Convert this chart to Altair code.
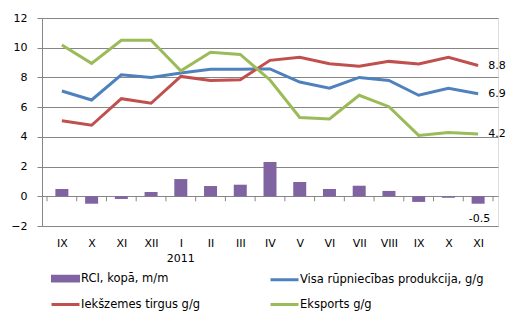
import altair as alt
import pandas as pd

months = ["IX", "X", "XI", "XII", "I", "II", "III", "IV", "V", "VI", "VII", "VIII", "IX", "X", "XI"]
rci = [0.49, -0.5, -0.18, 0.29, 1.16, 0.69, 0.78, 2.31, 0.96, 0.49, 0.71, 0.36, -0.38, -0.1, -0.5]
visa = [7.09, 6.48, 8.18, 8.0, 8.3, 8.55, 8.55, 8.57, 7.69, 7.27, 8.0, 7.8, 6.8, 7.27, 6.9]
iekz = [5.09, 4.78, 6.57, 6.26, 8.07, 7.8, 7.85, 9.15, 9.35, 8.92, 8.75, 9.08, 8.9, 9.35, 8.8]
eksp = [10.18, 8.95, 10.5, 10.5, 8.45, 9.7, 9.55, 7.83, 5.3, 5.2, 6.8, 6.03, 4.1, 4.3, 4.2]

names = ["RCI, kopā, m/m", "Visa rūpniecības produkcija, g/g", "Iekšzemes tirgus g/g", "Eksports g/g"]
colors = ["#8064A2", "#4F81BD", "#C0504D", "#9BBB59"]
end_labels = ["-0.5", "6.9", "8.8", "4.2"]

# legend fills column by column: order entries so rows read RCI | Visa, Iekšzemes | Eksports
legend_order = [names[0], names[2], names[1], names[3]]
legend_colors = [colors[0], colors[2], colors[1], colors[3]]

FONT = "DejaVu Sans"
GRID = "#868686"

pos = [i + 0.5 for i in range(len(months))]
bar_df = pd.DataFrame({"pos": pos, "v": rci, "s": names[0]})
line_df = pd.concat([
    pd.DataFrame({"pos": pos, "v": vals, "s": nm, "o": list(range(len(pos)))})
    for nm, vals in zip(names[1:], [visa, iekz, eksp])
])
end_df = pd.DataFrame({
    "pos": [pos[-1]] * 3,
    "v": [visa[-1], iekz[-1], eksp[-1]],
    "t": end_labels[1:],
})
rci_end = pd.DataFrame({"pos": [pos[-1]], "v": [rci[-1]], "t": [end_labels[0]]})
ticks_df = pd.DataFrame({"b": list(range(len(months) + 1))})

label_arr = "[" + ",".join("'%s'" % m for m in months) + "]"

xscale = alt.Scale(domain=[0, len(months)], nice=False, zero=False)
yscale = alt.Scale(domain=[-2, 12], nice=False)

x_axis = alt.Axis(
    values=pos, labelExpr=label_arr + "[floor(datum.value)]", ticks=False, domain=False,
    grid=False, labelPadding=11, labelFontSize=11, labelFont=FONT, labelColor="black",
    labelOverlap=False, labelBound=False, labelFlush=False, title=None)
y_axis = alt.Axis(
    values=list(range(-2, 13, 2)), grid=True, gridColor=GRID, tickColor=GRID, tickSize=5,
    domainColor=GRID, labelPadding=10, labelFontSize=11, labelFont=FONT, labelColor="black",
    labelOverlap=False, labelBound=False, labelFlush=False, title=None)


def X(field):
    return alt.X(field, scale=xscale, axis=x_axis)


def Y(field):
    return alt.Y(field, scale=yscale, axis=y_axis)


is_bar = "datum.value == '" + names[0] + "'"

bars = alt.Chart(bar_df).mark_bar(size=13, color=colors[0]).encode(
    x=X("pos:Q"), y=Y("v:Q"), y2=alt.Y2(datum=0))

lines = alt.Chart(line_df).mark_line(strokeWidth=3).encode(
    x=X("pos:Q"), y=Y("v:Q"),
    order="o:Q",
    color=alt.Color("s:N", scale=alt.Scale(domain=legend_order, range=legend_colors),
                    legend=alt.Legend(
                        orient="none", legendX=8, legendY=245, columns=2, title=None,
                        symbolType=alt.ExprRef(expr=is_bar + " ? 'M-0.93,-0.17H0.93V0.17H-0.93Z' : 'M-1,0H1'"),
                        symbolFillColor=alt.ExprRef(expr=is_bar + " ? '" + colors[0] + "' : 'transparent'"),
                        symbolSize=784, symbolStrokeWidth=3,
                        labelFont=FONT, labelFontSize=11.5, labelColor="black", labelLimit=400,
                        labelOffset=0, columnPadding=-1, rowPadding=2, padding=0,
                        gridAlign="all")))

xticks = alt.Chart(ticks_df).mark_rule(color=GRID).encode(
    x=X("b:Q"), y=alt.Y(datum=0, scale=yscale, axis=y_axis), y2=alt.value(183.3))

end_text = alt.Chart(end_df).mark_text(align="left", baseline="middle", dx=10,
                                       font=FONT, fontSize=11, color="black").encode(
    x=X("pos:Q"), y=Y("v:Q"), text="t:N")

rci_text = alt.Chart(rci_end).mark_text(align="right", baseline="middle", dx=12, dy=15,
                                        font=FONT, fontSize=11, color="black").encode(
    x=X("pos:Q"), y=Y("v:Q"), text="t:N")

year_text = alt.Chart(pd.DataFrame({"pos": [pos[4]], "t": ["2011"]})).mark_text(
    baseline="middle", font=FONT, fontSize=11, color="black").encode(
    x=X("pos:Q"), y=alt.value(241), text="t:N")

chart = alt.layer(bars, xticks, lines, end_text, rci_text, year_text).properties(
    width=456, height=208,
    autosize=alt.AutoSizeParams(type="none"),
    padding={"left": 42, "top": 18, "right": 23, "bottom": 97},
).configure_view(stroke=None).configure_axis(labelOverlap=False).configure(background="white")

chart.save("out.html", embed_options={"renderer": "svg", "actions": False})
